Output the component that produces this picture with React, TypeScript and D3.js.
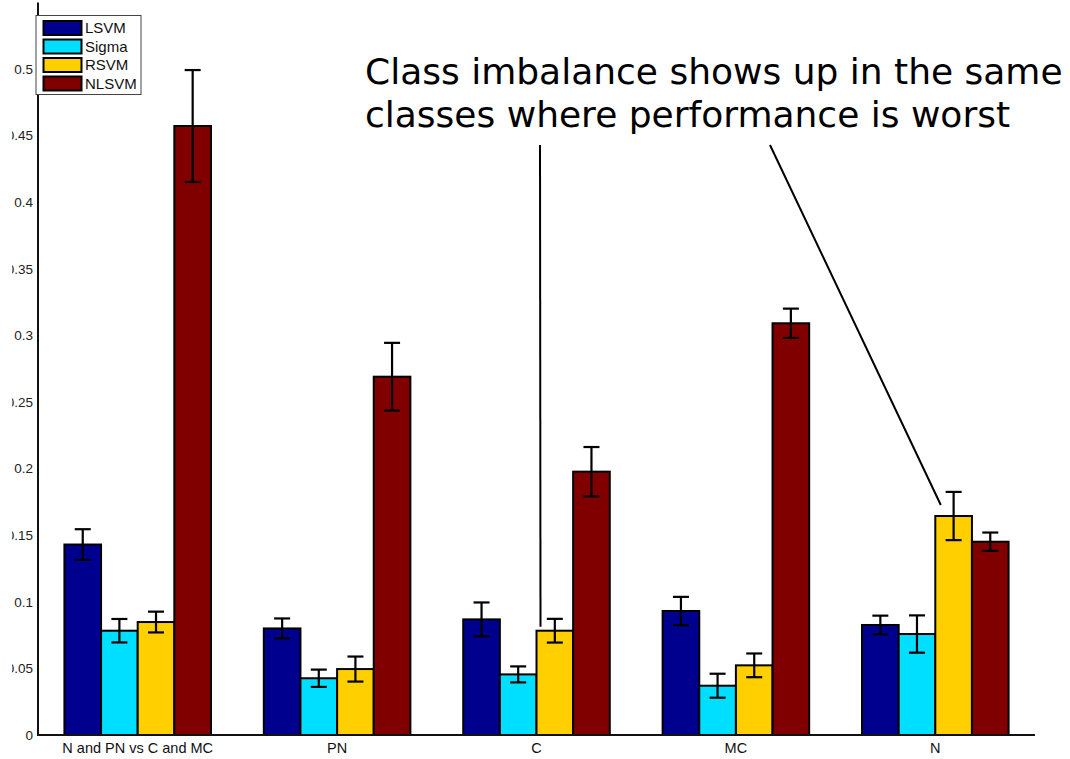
import React from "react";
import * as d3 from "d3";

// Classification error per class grouping, with error bars
const categories = ["N and PN vs C and MC", "PN", "C", "MC", "N"];
const seriesNames = ["LSVM", "Sigma", "RSVM", "NLSVM"];
const seriesColors = ["#00008f", "#00dfff", "#ffcf00", "#800000"];

const lsvm = [0.143, 0.080, 0.0868, 0.0931, 0.0826];
const lsvmErr = [0.0115, 0.0075, 0.0127, 0.0106, 0.007];
const sigma = [0.0783, 0.0426, 0.0455, 0.037, 0.0758];
const sigmaErr = [0.0088, 0.0065, 0.006, 0.009, 0.014];
const rsvm = [0.0848, 0.0495, 0.0783, 0.0523, 0.1644];
const rsvmErr = [0.0078, 0.0094, 0.0089, 0.0089, 0.0181];
const nlsvm = [0.4572, 0.269, 0.1977, 0.3091, 0.1451];
const nlsvmErr = [0.042, 0.0254, 0.0185, 0.011, 0.0069];

const yTicks = [0, 0.05, 0.1, 0.15, 0.2, 0.25, 0.3, 0.35, 0.4, 0.45, 0.5];

const annotationLines = ["Class imbalance shows up in the same", "classes where performance is worst"];

const W = 1070;
const H = 759;

export default function App() {
  const values = [lsvm, sigma, rsvm, nlsvm];
  const errors = [lsvmErr, sigmaErr, rsvmErr, nlsvmErr];

  const x = d3.scaleLinear().domain([0.5, 5.5]).range([38, 1035]);
  const y = d3.scaleLinear().domain([0, 0.55]).range([735, 735 - 0.55 * 1332]);

  const groupWidth = 0.735;
  const barW = groupWidth / seriesNames.length;
  const barLeft = (g: number, s: number) => g + 1 - groupWidth / 2 + s * barW;
  const capHalf = 8;

  const fmt = (v: number) => (v === 0 ? "0" : String(+v.toFixed(2)));

  // pointer endpoints near the RSVM bars of the C and N groups
  const ptrA = { x1: 540, y1: 145, x2: x(3) + 4, y2: y(rsvm[2] + 0.003) };
  const ptrB = { x1: 770, y1: 145, x2: x(5) + 5.5, y2: y(rsvm[4] + 0.0083) };

  return (
    <svg
      width={W}
      height={H}
      style={{ position: "absolute", left: 0, top: 0, background: "#fff" }}
      fontFamily="'Liberation Sans', Arial, sans-serif"
    >
      <defs>
        <clipPath id="tickClip">
          <rect x={12} y={0} width={W} height={H} />
        </clipPath>
      </defs>
      <rect width={W} height={H} fill="#fff" />

      {/* bars */}
      {categories.map((c, g) =>
        values.map((vals, s) => {
          const x0 = x(barLeft(g, s));
          const x1 = x(barLeft(g, s) + barW);
          return (
            <rect
              key={`b-${g}-${s}`}
              x={x0}
              y={y(vals[g])}
              width={x1 - x0}
              height={y(0) - y(vals[g])}
              fill={seriesColors[s]}
              stroke="#000"
              strokeWidth={2}
            />
          );
        })
      )}

      {/* error bars */}
      {categories.map((c, g) =>
        values.map((vals, s) => {
          const cx = x(barLeft(g, s) + barW / 2);
          const hi = y(vals[g] + errors[s][g]);
          const lo = y(vals[g] - errors[s][g]);
          return (
            <g key={`e-${g}-${s}`} stroke="#000" strokeWidth={2.2}>
              <line x1={cx} x2={cx} y1={hi} y2={lo} />
              <line x1={cx - capHalf} x2={cx + capHalf} y1={hi} y2={hi} />
              <line x1={cx - capHalf} x2={cx + capHalf} y1={lo} y2={lo} />
            </g>
          );
        })
      )}

      {/* axes */}
      <line x1={x(0.5)} x2={x(0.5)} y1={y(0.55)} y2={y(0)} stroke="#111" strokeWidth={2} />
      <line x1={x(0.5) - 1} x2={x(5.5)} y1={y(0)} y2={y(0)} stroke="#111" strokeWidth={2} />

      <g clipPath="url(#tickClip)" fontSize={13.5} fill="#222">
        {yTicks.map((t) => (
          <text key={`t-${t}`} x={33} y={y(t)} dy="0.35em" textAnchor="end">
            {fmt(t)}
          </text>
        ))}
      </g>

      <g fontSize={14.5} fill="#111">
        {categories.map((c, g) => (
          <text key={`c-${g}`} x={x(g + 1)} y={753} textAnchor="middle">
            {c}
          </text>
        ))}
      </g>

      {/* legend */}
      <g>
        <rect x={36} y={15.5} width={105} height={79} fill="#fff" stroke="#444" strokeWidth={1} />
        {seriesNames.map((n, i) => (
          <g key={`l-${n}`}>
            <rect
              x={43.5}
              y={21 + i * 18.5}
              width={38}
              height={14}
              fill={seriesColors[i]}
              stroke="#000"
              strokeWidth={2}
            />
            <text x={85} y={28 + i * 18.5} dy="0.36em" fontSize={15} fill="#111">
              {n}
            </text>
          </g>
        ))}
      </g>

      {/* annotation */}
      <g fontFamily="'DejaVu Sans', sans-serif" fontSize={36} fill="#000">
        {annotationLines.map((l, i) => (
          <text key={`a-${i}`} x={365} y={84 + i * 43}>
            {l}
          </text>
        ))}
      </g>
      <line {...ptrA} stroke="#000" strokeWidth={2} />
      <line {...ptrB} stroke="#000" strokeWidth={2} />
    </svg>
  );
}
